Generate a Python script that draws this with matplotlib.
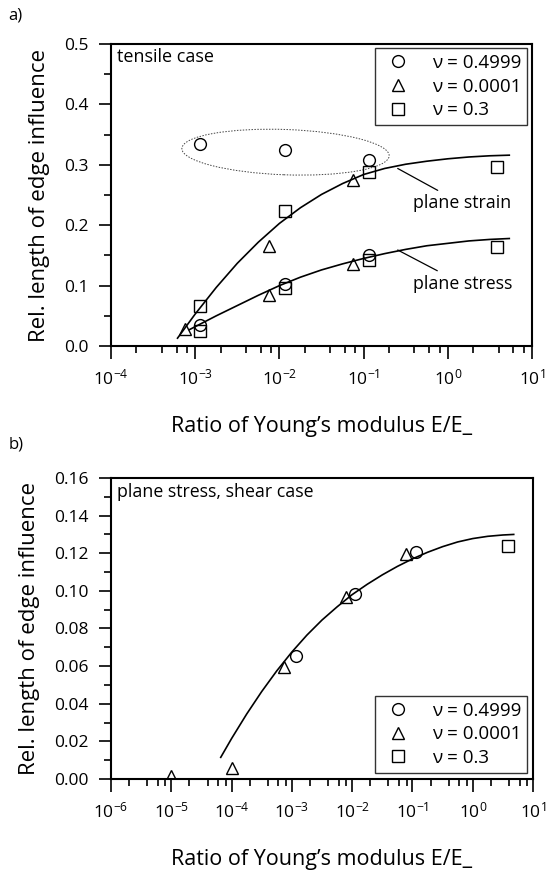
import matplotlib
matplotlib.use("Agg")
import matplotlib.pyplot as plt
import numpy as np
from matplotlib.patches import Ellipse
from matplotlib.ticker import LogLocator, FormatStrFormatter, MultipleLocator

plt.rcParams['font.family'] = ['Open Sans', 'DejaVu Sans']

labels = ['\u03bd = 0.4999', '\u03bd = 0.0001', '\u03bd = 0.3']

# a) tensile case
a_circ_x = [1.15e-3, 1.15e-2, 1.15e-1, 1.15e-3, 1.15e-2, 1.15e-1]
a_circ_y = [0.334, 0.325, 0.308, 0.034, 0.102, 0.150]
a_tri_x = [7.5e-4, 7.5e-3, 7.5e-3, 7.5e-2, 7.5e-2]
a_tri_y = [0.028, 0.165, 0.084, 0.275, 0.135]
a_sq_x = [1.15e-3, 1.15e-3, 1.15e-2, 1.15e-2, 1.15e-1, 1.15e-1, 3.8, 3.8]
a_sq_y = [0.066, 0.025, 0.223, 0.096, 0.288, 0.143, 0.297, 0.164]

# fitted curves (log10 of E/E_ and y)
strain_logx = [-3.21, -3.0, -2.75, -2.5, -2.25, -2.0, -1.75, -1.5, -1.25, -1.0,
               -0.75, -0.5, -0.25, 0.0, 0.25, 0.5, 0.73]
strain_y = [0.013, 0.053, 0.097, 0.137, 0.172, 0.203, 0.229, 0.251, 0.269, 0.284,
            0.294, 0.301, 0.306, 0.310, 0.313, 0.315, 0.316]
stress_logx = [-3.07, -2.75, -2.5, -2.25, -2.0, -1.75, -1.5, -1.25, -1.0,
               -0.75, -0.5, -0.25, 0.0, 0.25, 0.5, 0.73]
stress_y = [0.027, 0.050, 0.067, 0.084, 0.100, 0.114, 0.126, 0.136, 0.145,
            0.153, 0.160, 0.166, 0.170, 0.174, 0.1765, 0.178]

# b) plane stress, shear case
b_circ_x = [1.15e-3, 1.13e-2, 1.16e-1]
b_circ_y = [0.0656, 0.0986, 0.1204]
b_tri_x = [1e-5, 1e-4, 7.5e-4, 7.8e-3, 7.7e-2]
b_tri_y = [0.0018, 0.0058, 0.0593, 0.0969, 0.1196]
b_sq_x = [3.86]
b_sq_y = [0.124]

shear_logx = [-4.18, -4.0, -3.75, -3.5, -3.25, -3.0, -2.75, -2.5, -2.25, -2.0,
              -1.75, -1.5, -1.25, -1.0, -0.75, -0.5, -0.25, 0.0, 0.25, 0.5, 0.68]
shear_y = [0.0115, 0.0215, 0.0345, 0.0465, 0.0575, 0.0675, 0.0765, 0.0845, 0.0915,
           0.0980, 0.1035, 0.1085, 0.1130, 0.1170, 0.1205, 0.1235, 0.1260, 0.1278,
           0.1290, 0.1297, 0.1300]

mk = dict(linestyle='none', mfc='none', mec='black', mew=1.0, ms=8.5)


def style_axes(ax, xmin, ymax, ymajor, yminor, fmt):
    ax.set_xscale('log')
    ax.set_xlim(xmin, 10)
    ax.set_ylim(0, ymax)
    ax.xaxis.set_major_locator(LogLocator(base=10, numticks=20))
    ax.xaxis.set_minor_locator(LogLocator(base=10, subs=(2, 4, 6, 8), numticks=20))
    ax.yaxis.set_major_locator(MultipleLocator(ymajor))
    ax.yaxis.set_minor_locator(MultipleLocator(yminor))
    ax.yaxis.set_major_formatter(FormatStrFormatter(fmt))
    ax.tick_params(which='major', length=9, width=1.2, labelsize=12.5, pad=7)
    ax.tick_params(which='minor', length=5, width=1.2)
    for s in ax.spines.values():
        s.set_linewidth(1.5)
    ax.set_ylabel('Rel. length of edge influence', fontsize=16, labelpad=10)
    ax.set_xlabel('Ratio of Young\u2019s modulus E/E_', fontsize=15.5, labelpad=20)


def add_legend(ax, loc, anchor):
    leg = ax.legend(loc=loc, bbox_to_anchor=anchor, borderaxespad=0,
                    fancybox=False, edgecolor='#333333', fontsize=13.5,
                    handletextpad=0.9, handlelength=1.8, labelspacing=0.3,
                    borderpad=0.3, framealpha=1)
    leg.get_frame().set_linewidth(1.0)


fig = plt.figure(figsize=(5.46, 8.74), dpi=100)

ax1 = fig.add_axes([0.2033, 0.6041, 0.7711, 0.3455])
ax1.plot(10 ** np.array(strain_logx), strain_y, color='black', lw=1.2)
ax1.plot(10 ** np.array(stress_logx), stress_y, color='black', lw=1.2)
ax1.plot(a_circ_x, a_circ_y, marker='o', label=labels[0], **mk)
ax1.plot(a_tri_x, a_tri_y, marker='^', label=labels[1], **mk)
ax1.plot(a_sq_x, a_sq_y, marker='s', label=labels[2], **mk)
style_axes(ax1, 1e-4, 0.5, 0.1, 0.05, '%.1f')
ax1.add_patch(Ellipse((0.4145, 0.642), 0.493, 0.150, angle=-3, transform=ax1.transAxes,
                      fill=False, ls=(0, (1.5, 1.5)), lw=0.7, ec='#444444'))
ax1.text(0.014, 0.958, 'tensile case', transform=ax1.transAxes, fontsize=13, va='center')
ax1.annotate('plane strain', xy=(0.254, 0.294), xytext=(0.381, 0.236),
             fontsize=12.8, va='center', ha='left',
             arrowprops=dict(arrowstyle='-', lw=0.9, color='black', shrinkA=2, shrinkB=0))
ax1.annotate('plane stress', xy=(0.254, 0.159), xytext=(0.381, 0.103),
             fontsize=12.8, va='center', ha='left',
             arrowprops=dict(arrowstyle='-', lw=0.9, color='black', shrinkA=2, shrinkB=0))
add_legend(ax1, 'upper right', (0.987, 0.986))

ax2 = fig.add_axes([0.2033, 0.1087, 0.7729, 0.3444])
ax2.plot(10 ** np.array(shear_logx), shear_y, color='black', lw=1.2)
ax2.plot(b_circ_x, b_circ_y, marker='o', label=labels[0], **mk)
ax2.plot(b_tri_x, b_tri_y, marker='^', label=labels[1], **mk)
ax2.plot(b_sq_x, b_sq_y, marker='s', label=labels[2], **mk)
style_axes(ax2, 1e-6, 0.16, 0.02, 0.01, '%.2f')
ax2.text(0.014, 0.955, 'plane stress, shear case', transform=ax2.transAxes,
         fontsize=12.8, va='center')
add_legend(ax2, 'lower right', (0.985, 0.021))

fig.text(0.015, 0.982, 'a)', fontsize=12, va='center')
fig.text(0.015, 0.491, 'b)', fontsize=12, va='center')

fig.savefig('out.png', dpi=100)
